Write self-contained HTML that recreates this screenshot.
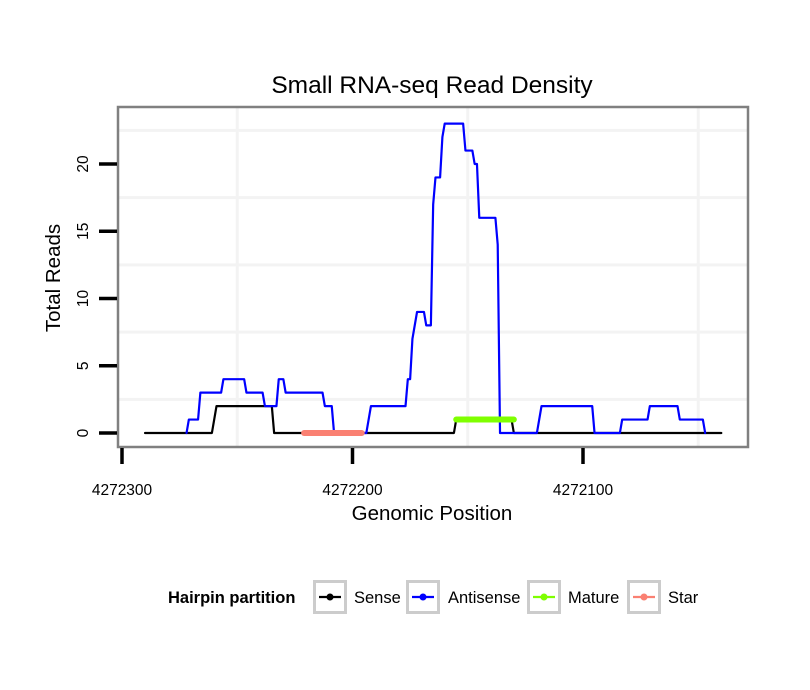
<!DOCTYPE html>
<html><head><meta charset="utf-8">
<style>
body{margin:0;background:#fff;}
svg{display:block;font-family:"Liberation Sans",sans-serif;}
</style></head>
<body>
<svg id="chart" width="810" height="690" viewBox="0 0 810 690">
<rect width="810" height="690" fill="#fff"/>
<text x="432" y="93" font-size="24.5" text-anchor="middle" fill="#000">Small RNA-seq Read Density</text>
<g id="grid"></g>
<g id="marks"></g>
<rect x="118" y="107" width="630" height="340" fill="none" stroke="#808080" stroke-width="2.5"/>
<g id="axes"></g>
<text x="432" y="520" font-size="20.5" text-anchor="middle">Genomic Position</text>
<text transform="translate(60,278) rotate(-90)" font-size="20.5" text-anchor="middle">Total Reads</text>
<g>
<text x="168" y="603" font-size="16.5" font-weight="bold">Hairpin partition</text>
<g id="legend-items"></g>
</g>
</svg>
<script>
const xTicks=[4272300,4272200,4272100];
const xMinor=[4272250,4272150,4272050];
const yTicks=[0,5,10,15,20];
const yMinor=[2.5,7.5,12.5,17.5,22.5];
const antisensePos=[4272272,4272271,4272267,4272266,4272257,4272256,4272247,4272246,4272239,4272238,4272233,4272232,4272230,4272229,4272213,4272212,4272209,4272208,4272194,4272192,4272177,4272176,4272175,4272174,4272172,4272169,4272168,4272166,4272165,4272164,4272162,4272161,4272160,4272152,4272151,4272148,4272147,4272146,4272145,4272138,4272137,4272136,4272131,4272120,4272118,4272096,4272095,4272084,4272083,4272072,4272071,4272059,4272058,4272048,4272047];
const antisenseVal=[0,1,1,3,3,4,4,3,3,2,2,4,4,3,3,2,2,0,0,2,2,4,4,7,9,9,8,8,17,19,19,22,23,23,21,21,20,20,16,16,14,0,0,0,2,2,0,0,1,1,2,2,1,1,0];
const sensePos=[4272290,4272261,4272259,4272235,4272234,4272156,4272155,4272131,4272130,4272040];
const senseVal=[0,0,2,2,0,0,1,1,0,0];
const starPos=[4272221,4272196];
const starVal=[0,0];
const maturePos=[4272155,4272130];
const matureVal=[1,1];
const legendLabels=["Sense","Antisense","Mature","Star"];
const legendColors=["#000000","#0000ff","#7fff00","#fa8072"];

const NS="http://www.w3.org/2000/svg";
const xs=p=>122+(4272300-p)*2.305;
const ys=v=>433-v*13.45;
function mk(tag,attrs,parent){const e=document.createElementNS(NS,tag);for(const k in attrs)e.setAttribute(k,attrs[k]);parent.appendChild(e);return e;}
const grid=document.getElementById('grid'),marks=document.getElementById('marks'),axes=document.getElementById('axes');
xMinor.forEach(p=>{const l=mk('line',{x1:xs(p),x2:xs(p),y1:108,y2:446,stroke:'#f3f3f3','stroke-width':3},grid);

});
yMinor.forEach(v=>{const l=mk('line',{x1:119,x2:747,y1:ys(v),y2:ys(v),stroke:'#f3f3f3','stroke-width':3},grid);

});
function line(pos,val,color,w,name){const pts=pos.map((p,i)=>xs(p)+','+ys(val[i])).join(' ');
const l=mk('polyline',{points:pts,fill:'none',stroke:color,'stroke-width':w,'stroke-linejoin':'round','stroke-linecap':'round'},marks);

}
line(sensePos,senseVal,'#000',2.2,'sense-line');
line(antisensePos,antisenseVal,'#0000ff',2.2,'antisense-line');
line(starPos,starVal,'#fa8072',6,'star-line');
line(maturePos,matureVal,'#7fff00',6,'mature-line');
xTicks.forEach(p=>{const t=mk('line',{x1:xs(p),x2:xs(p),y1:448,y2:464,stroke:'#000','stroke-width':3.5},axes);


const tx=mk('text',{x:xs(p),y:495,'font-size':15.5,'text-anchor':'middle'},axes);tx.textContent=p;

});
yTicks.forEach(v=>{const t=mk('line',{x1:99,x2:117,y1:ys(v),y2:ys(v),stroke:'#000','stroke-width':3.5},axes);


const tx=mk('text',{transform:`translate(88,${ys(v)}) rotate(-90)`,'font-size':15.5,'text-anchor':'middle'},axes);tx.textContent=v;

});
const lg=document.getElementById('legend-items');
const boxX=[313,406,527,627];
const textX=[354,448,568,668];
legendLabels.forEach((lab,i)=>{const g=mk('g',{},lg);


const bx=boxX[i];
mk('rect',{x:bx+1.5,y:581.5,width:31,height:31,fill:'#fff',stroke:'#cccccc','stroke-width':3},g);
mk('line',{x1:bx+6,x2:bx+28,y1:597,y2:597,stroke:legendColors[i],'stroke-width':2.2},g);
mk('circle',{cx:bx+17,cy:597,r:3.5,fill:legendColors[i]},g);
const t=mk('text',{x:textX[i],y:603,'font-size':16.5},g);t.textContent=lab;});
</script>
</body></html>
